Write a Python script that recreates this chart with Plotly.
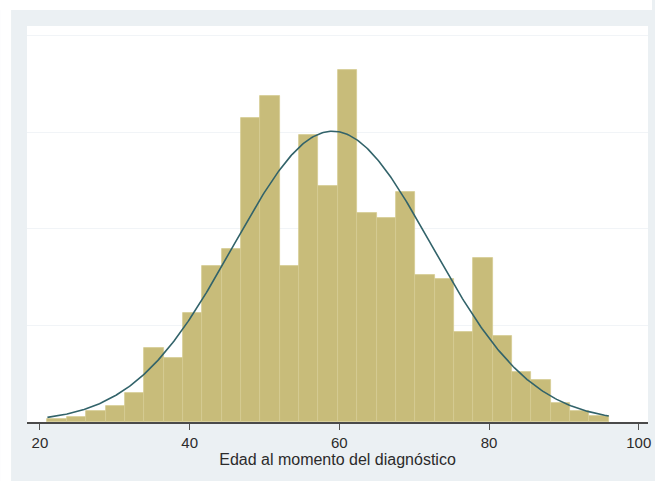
import numpy as np
import plotly.graph_objects as go

# Histogram of "Edad al momento del diagnóstico" (density scale), 29 bins
x_min = 21.0
x_max = 96.0
n_bins = 29
density = [0.0003, 0.0005, 0.0011, 0.0017, 0.0030, 0.0077, 0.0066, 0.0113,
           0.0162, 0.0179, 0.0315, 0.0338, 0.0162, 0.0297, 0.0244, 0.0364,
           0.0216, 0.0211, 0.0238, 0.0152, 0.0148, 0.0093, 0.0170, 0.0089,
           0.0052, 0.0044, 0.0020, 0.0011, 0.0006]
# normal-density overlay parameters
mean_age = 59.1
sd_age = 13.25

x_ticks = [20, 40, 60, 80, 100]
x_title = "Edad al momento del diagnóstico"

bin_w = (x_max - x_min) / n_bins
mids = [x_min + bin_w * (i + 0.5) for i in range(n_bins)]

xs = np.linspace(x_min, x_max, 400)
ys = np.exp(-0.5 * ((xs - mean_age) / sd_age) ** 2) / (sd_age * np.sqrt(2 * np.pi))

fig = go.Figure()
fig.add_trace(go.Bar(
    x=mids, y=density, width=bin_w,
    marker=dict(color="#c8bc7a", line=dict(color="#d4cb92", width=0.8)),
    showlegend=False, hoverinfo="skip",
))
fig.add_trace(go.Scatter(
    x=xs, y=ys, mode="lines",
    line=dict(color="#32636a", width=1.6),
    showlegend=False, hoverinfo="skip",
))

L, R, T, B = 27, 4, 26, 59
W, H = 655, 481
pw, ph = W - L - R, H - T - B

def px(xp):
    return (xp - L) / pw

def py(yp):
    return (H - B - yp) / ph

shapes = [
    # white outer margins around the light grey graph region
    dict(type="rect", xref="paper", yref="paper", x0=px(0), x1=px(11),
         y0=py(H), y1=py(0), fillcolor="white", line=dict(width=0), layer="below"),
    dict(type="rect", xref="paper", yref="paper", x0=px(0), x1=px(W),
         y0=py(10), y1=py(0), fillcolor="white", line=dict(width=0), layer="below"),
]

fig.update_layout(
    width=W, height=H,
    margin=dict(l=L, r=R, t=T, b=B),
    paper_bgcolor="#ebf0f3",
    plot_bgcolor="white",
    bargap=0,
    shapes=shapes,
    font=dict(family="Liberation Sans, Arial, sans-serif", color="#2b2b2b"),
    xaxis=dict(
        range=[18.27, 101.24],
        tickvals=x_ticks,
        ticks="outside", ticklen=6, tickcolor="#555555", tickwidth=1,
        tickfont=dict(size=15),
        showline=True, linecolor="#4a4a4a", linewidth=1.5,
        showgrid=False, zeroline=False,
        title=dict(text=x_title, font=dict(size=16), standoff=0),
    ),
    yaxis=dict(
        range=[0, 0.0410],
        tickvals=[0.01, 0.02, 0.03, 0.04],
        showticklabels=False,
        showgrid=True, gridcolor="#f1f4f7", gridwidth=1,
        zeroline=False, showline=False,
    ),
)

fig.write_html("out.html")
